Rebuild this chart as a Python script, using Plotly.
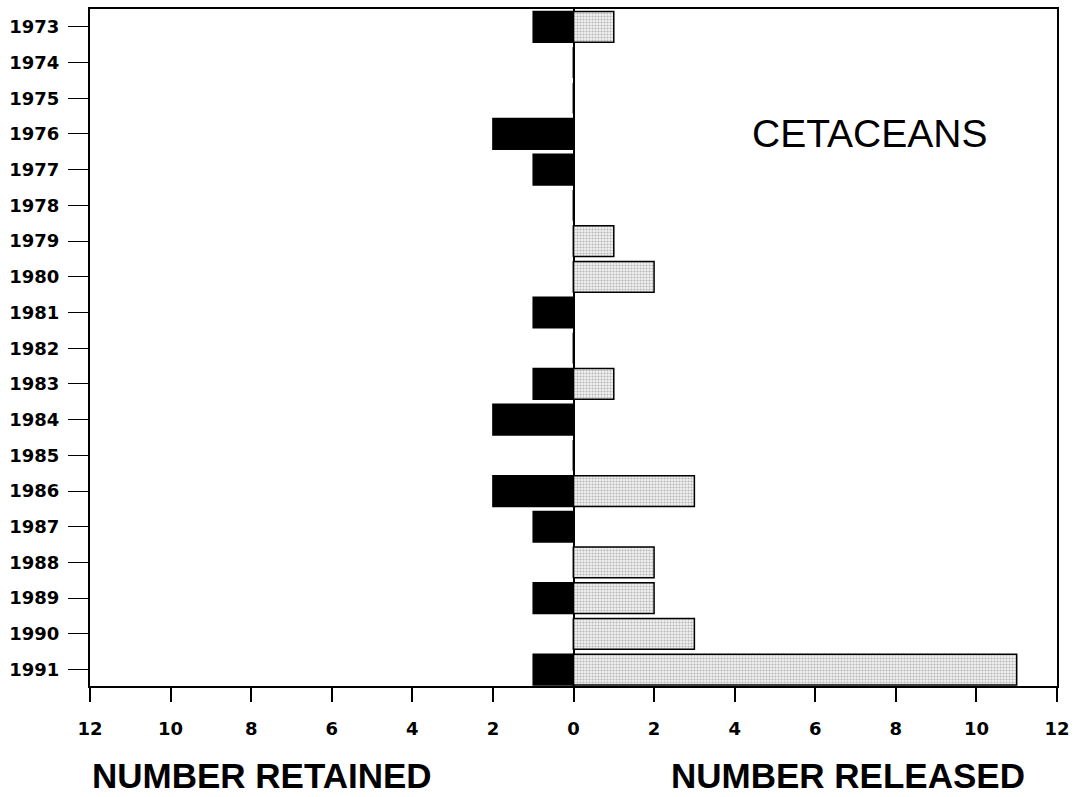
import plotly.graph_objects as go

years = list(range(1973, 1992))
retained = [1, 0, 0, 2, 1, 0, 0, 0, 1, 0, 1, 2, 0, 2, 1, 0, 1, 0, 1]
released = [1, 0, 0, 0, 0, 0, 1, 2, 0, 0, 1, 0, 0, 3, 0, 2, 2, 3, 11]
x_ticks = [-12, -10, -8, -6, -4, -2, 0, 2, 4, 6, 8, 10, 12]
x_ticktext = [str(abs(v)) for v in x_ticks]

fig = go.Figure()

fig.add_trace(go.Bar(
    y=years, x=[-v for v in retained], orientation="h",
    width=0.86, marker=dict(color="black", line=dict(color="black", width=1.5)),
    name="Retained", showlegend=False,
))
fig.add_trace(go.Bar(
    y=years, x=released, orientation="h",
    width=0.86,
    marker=dict(color="#f2f2f2", line=dict(color="black", width=1.5),
                pattern=dict(shape=".", fgcolor="#777777", size=3, solidity=0.4)),
    name="Released", showlegend=False,
))

tick_font = dict(family="DejaVu Sans", size=18, color="black", weight="bold")
title_font = dict(family="Liberation Sans", size=35, color="black", weight="bold")

fig.update_layout(
    barmode="overlay",
    width=1076, height=797,
    margin=dict(l=90, r=19, t=9, b=111),
    plot_bgcolor="white", paper_bgcolor="white",
    xaxis=dict(
        range=[-12, 12], tickvals=x_ticks, ticktext=x_ticktext,
        showgrid=False, showline=True, linecolor="black", linewidth=2, mirror=True,
        ticks="outside", ticklen=14, tickwidth=2, tickcolor="black",
        tickfont=tick_font, ticklabelstandoff=11, automargin=False,
        zeroline=True, zerolinecolor="black", zerolinewidth=2,
    ),
    yaxis=dict(
        range=[1991.46, 1972.5], tickvals=years,
        showgrid=False, showline=True, linecolor="black", linewidth=2, mirror=True,
        ticks="outside", ticklen=20, tickwidth=1, tickcolor="black",
        tickfont=tick_font, ticklabelstandoff=5, zeroline=False, automargin=False,
    ),
    annotations=[
        dict(text="CETACEANS", x=7.36, y=1976, xref="x", yref="y", showarrow=False,
             font=dict(family="Liberation Sans", size=39, color="black")),
        dict(text="NUMBER RETAINED", x=0, y=-0.132, xref="paper", yref="paper",
             xanchor="left", yanchor="middle", showarrow=False, font=title_font),
        dict(text="NUMBER RELEASED", x=0.969, y=-0.132, xref="paper", yref="paper",
             xanchor="right", yanchor="middle", showarrow=False, font=title_font),
    ],
)

# page body has a default 8px margin; drop it so the figure sits at 0,0
fig.write_html("out.html", config={"displayModeBar": False},
               post_script="document.body.style.margin='0';")
